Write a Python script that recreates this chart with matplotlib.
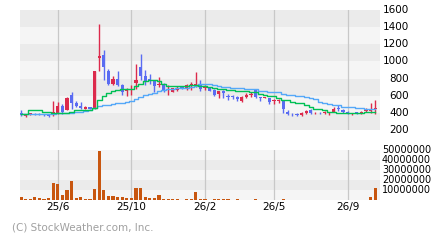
import matplotlib
matplotlib.use("Agg")
import numpy as np
import matplotlib.pyplot as plt
import matplotlib.transforms as mtransforms

# weekly candles, oldest first
opens = [395, 365, 385, 388, 386, 380, 378, 372, 395, 480, 433, 608, 515, 482, 448, 468,
         448, 1040, 1075, 888, 740, 795, 725, 655, 663, 748, 935, 830, 795, 780, 725, 737,
         667, 645, 667, 700, 690, 713, 713, 737, 690, 690, 667, 620, 655, 588, 588, 585,
         538, 588, 608, 667, 585, 573, 573, 538, 540, 538, 410, 387, 378, 375, 400, 433,
         395, 400, 398, 398, 410, 447, 433, 412, 385, 400, 398, 422, 422, 445]
closes = [372, 378, 398, 382, 380, 372, 368, 410, 480, 410, 573, 515, 482, 460, 468, 448,
          888, 1065, 938, 737, 795, 725, 643, 678, 670, 783, 830, 760, 772, 713, 737, 667,
          678, 690, 678, 680, 725, 737, 737, 680, 713, 655, 608, 655, 632, 583, 583, 562,
          585, 608, 620, 585, 573, 585, 527, 550, 552, 445, 390, 383, 373, 398, 422, 400,
          400, 395, 410, 402, 445, 443, 410, 400, 388, 396, 410, 433, 433, 457]
highs = [430, 382, 402, 398, 395, 385, 385, 542, 527, 505, 580, 643, 538, 525, 475, 472,
         890, 1437, 1135, 910, 830, 888, 737, 690, 725, 970, 1087, 900, 853, 785, 818, 748,
         725, 695, 713, 705, 737, 760, 877, 783, 725, 695, 678, 658, 667, 620, 608, 597,
         597, 632, 643, 678, 588, 588, 575, 562, 562, 540, 433, 398, 398, 410, 433, 445,
         410, 410, 422, 410, 468, 492, 445, 422, 398, 410, 422, 457, 515, 550]
lows = [360, 355, 380, 375, 375, 362, 355, 368, 390, 388, 430, 445, 465, 445, 440, 440,
        440, 888, 785, 725, 728, 713, 610, 600, 610, 678, 783, 725, 737, 645, 702, 643,
        610, 640, 655, 675, 667, 667, 702, 655, 667, 650, 597, 573, 573, 550, 562, 540,
        527, 573, 585, 573, 538, 570, 503, 503, 515, 398, 375, 363, 363, 363, 387, 387,
        387, 387, 387, 375, 410, 422, 398, 387, 375, 387, 387, 410, 398, 387]

ma_short = [383, 383, 433, 433, 433, 413, 413, 395, 395, 395, 400, 406, 433, 433, 433, 433,
            455, 550, 600, 635, 660, 667, 675, 678, 680, 713, 737, 772, 785, 783, 770, 737,
            713, 713, 713, 713, 717, 720, 720, 713, 713, 700, 690, 680, 675, 667, 667, 655,
            655, 650, 643, 643, 625, 610, 600, 597, 573, 550, 545, 527, 515, 515, 492, 468,
            445, 445, 433, 410, 410, 398, 398, 398, 398, 398, 398, 410, 410, 410]
ma_long = [385, 385, 385, 385, 385, 385, 385, 385, 395, 395, 395, 400, 410, 410, 420, 433,
           453, 480, 492, 492, 500, 511, 515, 527, 535, 560, 590, 605, 620, 635, 650, 665,
           675, 678, 685, 690, 690, 700, 713, 737, 737, 737, 725, 713, 705, 702, 695, 690,
           685, 678, 678, 678, 660, 655, 645, 643, 640, 615, 608, 605, 597, 597, 580, 573,
           562, 530, 510, 503, 495, 492, 470, 468, 468, 457, 457, 450, 450, 450]

# volume in millions of shares
volume = [3, 1, 1, 3, 2, 1, 2, 17, 16, 5, 10, 19, 2, 3, 1, 1,
          11, 49, 10, 4, 4, 3, 3, 2, 2, 12, 12, 3, 2, 2, 5, 1,
          1, 1, 1, 0, 1, 1, 8, 1, 1, 0, 1, 1, 1, 1, 0, 1,
          0, 0, 0, 1, 0, 0, 0, 0, 0, 1, 0, 0, 0, 0, 0, 0,
          0, 0, 0, 0, 0, 0, 0, 0, 0, 0, 0, 0, 3, 12]

price_ticks = [200, 400, 600, 800, 1000, 1200, 1400, 1600]
vol_ticks = [10, 20, 30, 40, 50]
vol_labels = ["10000000", "20000000", "30000000", "40000000", "50000000"]
month_pos = [8, 24, 40, 55, 71]
month_labels = ["25/6", "25/10", "26/2", "26/5", "26/9"]

UP = "#dc2a4c"
DOWN = "#5a6cf2"
VOL = "#c8560f"
DARK = "#ebebeb"
LIGHT = "#f5f5f5"
GRID = "#c8c8c8"
W, H = 440, 240

x = np.arange(len(opens))
o = np.array(opens)
c = np.array(closes)
h = np.array(highs)
l = np.array(lows)
colors = np.where(c >= o, UP, DOWN)

fig = plt.figure(figsize=(4.4, 2.4), dpi=100)
ax = fig.add_axes([20 / W, 1 - 130 / H, 360 / W, 120 / H])
axv = fig.add_axes([20 / W, 1 - 200 / H, 360 / W, 50 / H])

xlim = (-0.22, 78.04)

# price panel
for k in range(7):
    ax.axhspan(200 + 200 * k, 400 + 200 * k, color=DARK if k % 2 == 0 else LIGHT, lw=0, zorder=0)
for p in month_pos:
    ax.axvline(p, color=GRID, lw=0.9, zorder=1)

ax.vlines(x, l, h, colors=colors, lw=1.0, zorder=3)
body = np.maximum(np.abs(c - o), 9)
ax.bar(x, body, bottom=np.minimum(o, c), width=0.68, color=colors, lw=0, zorder=4)

ax.plot(x, ma_long, color="#55a8f8", lw=1.0, drawstyle="steps-mid", zorder=5)
ax.plot(x, ma_short, color="#00c055", lw=1.0, drawstyle="steps-mid", zorder=5)

ax.set_xlim(*xlim)
ax.set_ylim(200, 1600)
ax.set_xticks([])
ax.set_yticks([])
for s in ax.spines.values():
    s.set_visible(False)

tr = mtransforms.blended_transform_factory(fig.transFigure, ax.transData)
for v in price_ticks:
    ax.text(409 / W, v, str(v), transform=tr, ha="right", va="center",
            fontsize=7.5, clip_on=False)

# volume panel
for k in range(5):
    axv.axhspan(10 * k, 10 * (k + 1), color=LIGHT if k % 2 == 0 else DARK, lw=0, zorder=0)
for p in month_pos:
    axv.axvline(p, color=GRID, lw=0.9, zorder=1)
axv.bar(x, volume, width=0.68, color=VOL, lw=0, zorder=3)
axv.set_xlim(*xlim)
axv.set_ylim(0, 50)
axv.set_xticks([])
axv.set_yticks([])
for s in axv.spines.values():
    s.set_visible(False)

trv = mtransforms.blended_transform_factory(fig.transFigure, axv.transData)
for v, lab in zip(vol_ticks, vol_labels):
    axv.text(382 / W, v, lab, transform=trv, ha="left", va="center",
             fontsize=7, clip_on=False)

trx = mtransforms.blended_transform_factory(axv.transData, fig.transFigure)
for p, lab in zip(month_pos, month_labels):
    axv.text(p, 1 - 207 / H, lab, transform=trx, ha="center", va="center",
             fontsize=7.5, clip_on=False)

fig.text(12 / W, 1 - 227 / H, "(C) StockWeather.com, Inc.", color="#a0a0a0",
         fontsize=7.5, va="center", ha="left")

fig.savefig("out.png", dpi=100, facecolor="white")
